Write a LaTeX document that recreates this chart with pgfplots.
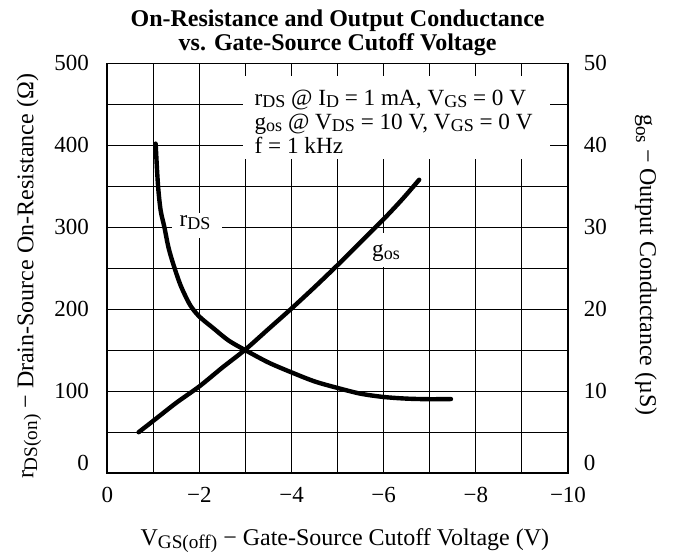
\documentclass[border=0pt]{standalone}
\usepackage{pgfplots}
\pgfplotsset{compat=1.18}
\usepackage{fontspec}
\setmainfont{Liberation Serif}
\newcommand\sub[1]{\raisebox{-0.35ex}{\fontsize{9.6}{10}\selectfont #1}}
\newcommand\subs[1]{\raisebox{-0.25ex}{\fontsize{9}{10}\selectfont #1}}
\newcommand\txt{\fontsize{12}{14}\selectfont}
\newcommand\ann{\fontsize{11.6}{13}\selectfont}
\begin{document}
\begin{tikzpicture}
\useasboundingbox (-53.65pt,-40.35pt) rectangle (283.9pt,236.65pt);
\begin{axis}[
  at={(0pt,0pt)}, anchor=south west, scale only axis,
  width=230.4pt, height=205pt,
  x dir=reverse, xmin=-10, xmax=0, ymin=0, ymax=500,
  xtick={-10,-8,-6,-4,-2,0}, xticklabels={−10,−8,−6,−4,−2,0},
  minor xtick={-9,-7,-5,-3,-1},
  ytick={0,100,200,300,400,500}, minor ytick={50,150,250,350,450},
  yticklabels={\raisebox{1.2pt}[0pt][0pt]{0},100,200,300,400,500},
  grid=both,
  major grid style={black, line width=0.55pt},
  minor grid style={black, line width=0.55pt},
  major tick length=0pt, minor tick length=0pt,
  axis line style={black, line width=0.8pt},
  ytick pos=left, xtick pos=bottom,
  tick label style={font=\fontsize{11.5}{12}\selectfont},
  xticklabel style={anchor=base, yshift=-14.7pt, inner sep=0pt},
  yticklabel style={anchor=east, xshift=-9pt, inner sep=0pt},
]
\fill[white] (axis cs:-2.95,484) rectangle (axis cs:-9.61,383);
\node[anchor=base west, inner sep=0pt, font=\ann] at (axis cs:-3.19,449) {r\subs{DS} @ I\subs{D} = 1 mA, V\subs{GS} = 0 V};
\node[anchor=base west, inner sep=0pt, font=\ann] at (axis cs:-3.19,419.5) {g\subs{os} @ V\subs{DS} = 10 V, V\subs{GS} = 0 V};
\node[anchor=base west, inner sep=0pt, font=\ann] at (axis cs:-3.19,390) {f = 1 kHz};
\fill[white] (axis cs:-1.4,318) rectangle (axis cs:-2.5,287);
\node[anchor=base west, inner sep=0pt, font=\ann] at (axis cs:-1.56,301) {r\subs{DS}};
\fill[white] (axis cs:-5.74,293) rectangle (axis cs:-6.36,252);
\node[anchor=base, inner sep=0pt, font=\ann] at (axis cs:-6.05,264) {g\subs{os}};
\addplot[black, line width=2.2pt, smooth, line cap=round] coordinates {
(-1.05,402) (-1.08,370) (-1.11,345) (-1.16,320) (-1.24,300) (-1.33,275)
(-1.45,252) (-1.60,228) (-1.80,205) (-2.00,191) (-2.30,177) (-2.63,162)
(-3.00,150) (-3.50,135) (-4.00,123) (-4.50,112) (-5.00,104) (-5.50,97)
(-6.00,93) (-6.50,91) (-7.00,90.3) (-7.46,90.5)
};
\end{axis}
\begin{axis}[
  at={(0pt,0pt)}, anchor=south west, scale only axis,
  width=230.4pt, height=205pt,
  x dir=reverse, xmin=-10, xmax=0, ymin=0, ymax=50,
  axis y line*=right, axis x line=none,
  ytick={0,10,20,30,40,50},
  yticklabels={\raisebox{1.2pt}[0pt][0pt]{0},10,20,30,40,50},
  major tick length=0pt,
  axis line style={black, line width=0.8pt},
  tick label style={font=\fontsize{11.5}{12}\selectfont},
  yticklabel style={anchor=west, xshift=7.7pt, inner sep=0pt},
]
\addplot[black, line width=2.2pt, smooth, line cap=round] coordinates {
(-0.68,5.0) (-1.0,6.4) (-1.5,8.6) (-2.0,10.6) (-2.5,12.9) (-3.0,15.1)
(-3.5,17.6) (-4.0,20.1) (-4.5,22.7) (-5.0,25.4) (-5.5,28.2) (-6.0,31.0)
(-6.4,33.4) (-6.77,35.8)
};
\end{axis}
\node[anchor=base, font=\bfseries\fontsize{12}{14}\selectfont] at (115.2pt,223.3pt) {On-Resistance and Output Conductance};
\node[anchor=base, font=\bfseries\fontsize{12}{14}\selectfont] at (115.2pt,211.3pt) {vs. Gate-Source Cutoff Voltage};
\node[anchor=base, font=\txt] at (118.8pt,-35.9pt) {V\sub{GS(off)} − Gate-Source Cutoff Voltage (V)};
\node[anchor=base, rotate=90, font=\txt] at (-37pt,98.4pt) {r\sub{DS(on)} − Drain-Source On-Resistance (Ω)};
\node[anchor=base, rotate=-90, font=\txt] at (266.4pt,104.2pt) {g\sub{os} − Output Conductance (µS)};
\end{tikzpicture}
\end{document}
